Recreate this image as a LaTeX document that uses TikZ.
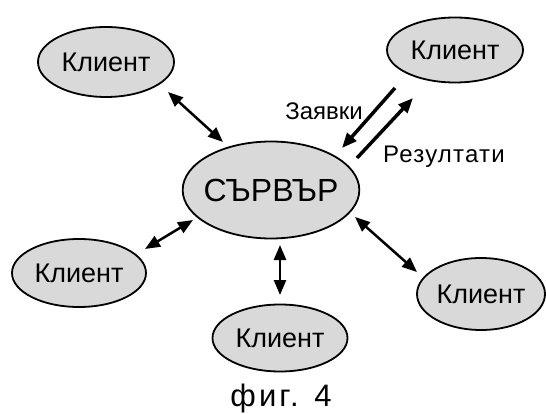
\documentclass[tikz,border=0pt]{standalone}
\usepackage{fontspec}
\setmainfont{Liberation Sans}
\usetikzlibrary{arrows.meta,shapes.geometric}

\tikzset{
  oval/.style={ellipse, draw, line width=1.8pt, fill=black!15, inner sep=0pt},
  link/.style={{Triangle[length=15pt,width=12pt]}-{Triangle[length=15pt,width=12pt]}, line width=2.5pt},
  flow/.style={-{Triangle[length=15pt,width=12pt]}, line width=3.5pt},
  lbl/.style={font=\fontsize{24}{28}\selectfont, inner sep=0pt}
}

\begin{document}
\begin{tikzpicture}[x=1pt,y=-1pt,font=\fontsize{27}{32}\selectfont]
    \useasboundingbox (0,0) rectangle (546,414);

    \node[oval, minimum width=172pt, minimum height=97pt, inner sep=-5pt, font=\fontsize{32}{36}\selectfont] (srv) at (271,190) {СЪРВЪР};

    \foreach \n/\x/\y/\w/\h in {c1/106/62/136/70, c2/455/50/136/65, c3/79/273/134/68, c4/280/338/135/67, c5/481/294/128/72} {
      \node[oval, minimum width=\w pt, minimum height=\h pt] (\n) at (\x,\y) {Клиент};
    }

    % arrow ends
    \coordinate (c1a) at (168,92);  \coordinate (c1b) at (223,142);
    \coordinate (c2a) at (395,88);  \coordinate (c2b) at (342,148);
    \coordinate (c2c) at (357,158); \coordinate (c2d) at (413,98);
    \coordinate (c3a) at (145,249); \coordinate (c3b) at (193,220);
    \coordinate (c4a) at (280,245); \coordinate (c4b) at (280,295);
    \coordinate (c5a) at (355,217); \coordinate (c5b) at (417,272);

    \draw[link] (c1a) -- (c1b);
    \draw[link] (c3a) -- (c3b);
    \draw[link] (c4a) -- (c4b);
    \draw[link] (c5a) -- (c5b);
    \draw[flow] (c2a) -- (c2b);
    \draw[flow] (c2c) -- (c2d);

    \node[lbl, anchor=base east] (req) at (363,120) {Заявки};
    \node[lbl, anchor=base west, font=\fontsize{24}{28}\selectfont\addfontfeature{LetterSpace=5}] (res) at (383,163) {Резултати};
    \node[font=\fontsize{31}{36}\selectfont\addfontfeature{LetterSpace=10}, anchor=base, inner sep=0pt] (cap) at (281,406) {фиг. 4};
  \end{tikzpicture}
\end{document}
